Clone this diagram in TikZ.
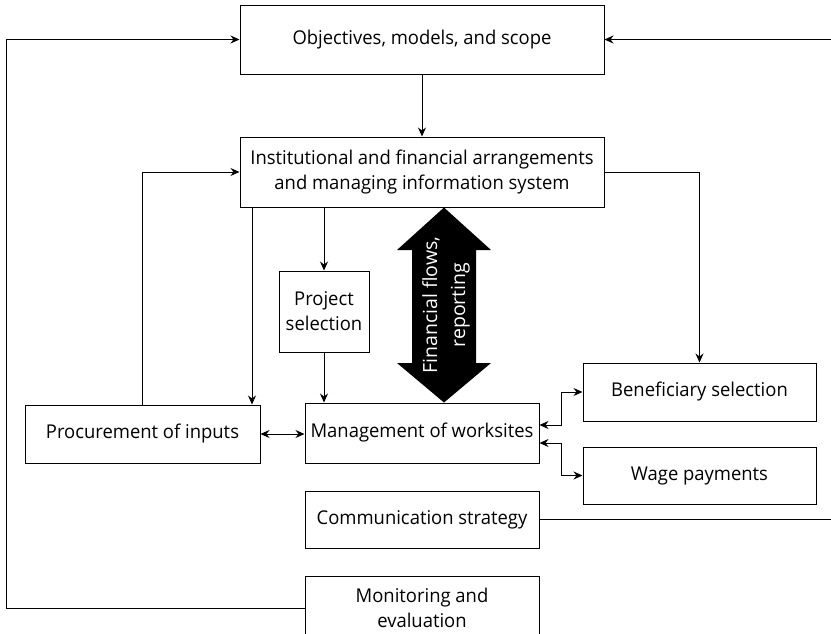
\documentclass[tikz,border=0pt]{standalone}
\usepackage{fontspec}
\setmainfont{Open Sans}[FakeStretch=0.97]
\newfontfamily\arrowfont{Open Sans}
\usetikzlibrary{arrows.meta}
\begin{document}
\begin{tikzpicture}[x=1pt,y=-1pt,
  box/.style={draw, line width=1pt, inner sep=0pt, align=center,
    font=\fontsize{19}{25}\selectfont},
  arr/.style={line width=0.9pt, -{Stealth[length=9pt,width=8pt,inset=3pt]}},
  dbl/.style={line width=0.9pt, {Stealth[length=9pt,width=8pt,inset=3pt]}-{Stealth[length=9pt,width=8pt,inset=3pt]}},
  plain/.style={line width=0.9pt}]
\useasboundingbox (0,0) rectangle (831,633);
\clip (0,0) rectangle (831,633);

% boxes
\node[box, minimum width=364pt, minimum height=69pt] (obj) at (422,39.5) {Objectives, models, and scope};
\node[box, minimum width=364pt, minimum height=70pt] (inst) at (422,172) {Institutional and financial arrangements\\and managing information system};
\node[box, minimum width=90pt, minimum height=81pt] (proj) at (324,311.5) {Project\\selection};
\node[box, minimum width=235pt, minimum height=58pt] (proc) at (142.5,434) {Procurement of inputs};
\node[box, minimum width=234pt, minimum height=60pt] (mgmt) at (422,433) {Management of worksites};
\node[box, minimum width=233pt, minimum height=58pt] (ben) at (699.5,392) {Beneficiary selection};
\node[box, minimum width=233pt, minimum height=57pt] (wage) at (699.5,475.5) {Wage payments};
\node[box, minimum width=234pt, minimum height=57pt] (comm) at (422,519.5) {Communication strategy};
\node[box, minimum width=234pt, minimum height=64pt] (mon) at (422,608) {Monitoring and\\evaluation};

% column positions for the routed lines
\coordinate (xL) at (6,0);
\coordinate (xP) at (252,0);
\coordinate (xJ) at (561,0);
\coordinate (eR) at (831,0);

% feedback loops to the objectives
\draw[arr] (mon.west) -| (xL |- obj.west) -- (obj.west);
\draw[arr] (eR |- obj.east) -- (obj.east);
\draw[plain] (comm.east) -- (eR |- comm.east);

% main flow
\draw[arr] (obj) -- (inst);
\draw[arr] (proc.north) |- (inst.west);
\draw[arr] (inst.south -| xP) -- (proc.north -| xP);
\draw[arr] (inst.south -| proj.north) -- (proj.north);
\draw[arr] (proj.south) -- (proj.south |- mgmt.north);
\draw[arr] (inst.east) -| (ben.north);
\draw[dbl] (proc.east) -- (proc.east -| mgmt.west);
\draw[dbl] ([yshift=8pt]mgmt.east) -| (xJ |- ben.west) -- (ben.west);
\draw[dbl] ([yshift=-10pt]mgmt.east) -| (xJ |- wage.west) -- (wage.west);

% big double arrow for financial flows
\fill (inst.south -| 444,0) -- (491,250) -- (476,250) -- (476,363) -- (491,363)
  -- (mgmt.north -| 444,0) -- (397,363) -- (412,363) -- (412,250) -- (397,250) -- cycle;
\node[rotate=90, text=white, align=center, inner sep=0pt,
  font=\arrowfont\fontsize{19.5}{28}\selectfont] (ff) at (446,305) {Financial flows,\\reporting};
\end{tikzpicture}
\end{document}
